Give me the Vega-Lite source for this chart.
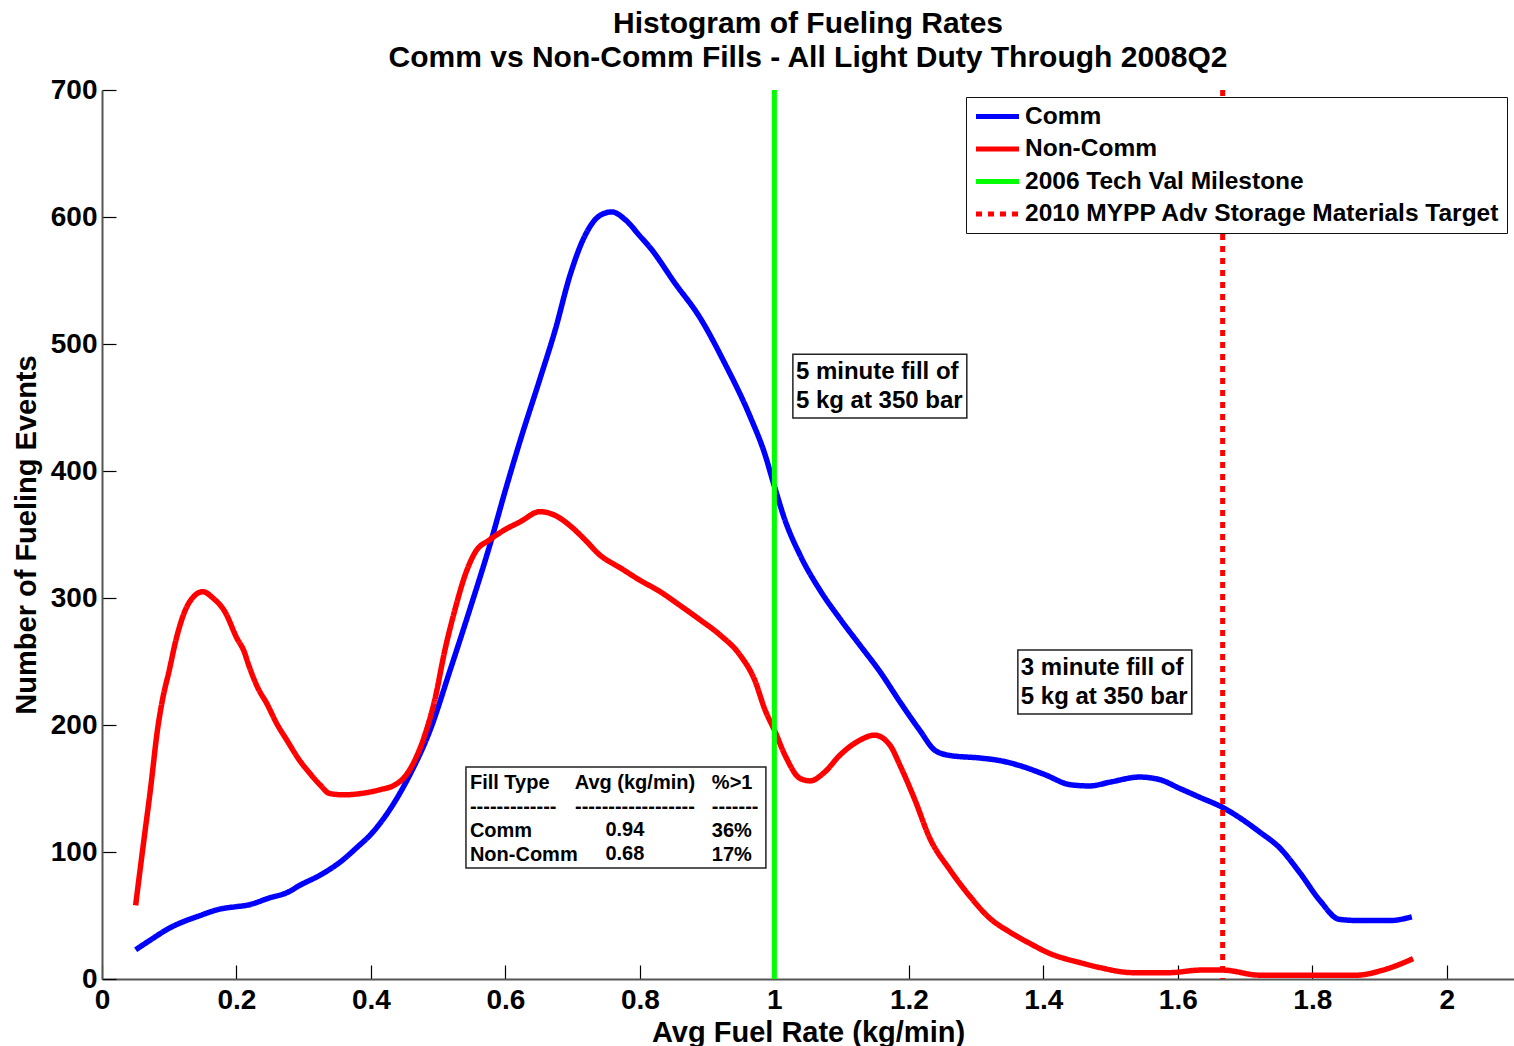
{
  "$schema": "https://vega.github.io/schema/vega-lite/v6.json",
  "width": 1412,
  "height": 889,
  "autosize": "none",
  "padding": {"left": 102, "top": 90, "right": 0, "bottom": 67},
  "background": "white",
  "title": {
    "text": ["Histogram of Fueling Rates", "Comm vs Non-Comm Fills - All Light Duty Through 2008Q2"],
    "font": "Liberation Sans",
    "fontWeight": "bold",
    "fontSize": 30,
    "lineHeight": 34,
    "color": "black",
    "anchor": "middle",
    "offset": 3
  },
  "datasets": {
    "curves": [
      {"series": "Comm", "rate": 0.05, "count": 23},
      {"series": "Comm", "rate": 0.07, "count": 30},
      {"series": "Comm", "rate": 0.1, "count": 40},
      {"series": "Comm", "rate": 0.146, "count": 50},
      {"series": "Comm", "rate": 0.175, "count": 55},
      {"series": "Comm", "rate": 0.2, "count": 57},
      {"series": "Comm", "rate": 0.215, "count": 58},
      {"series": "Comm", "rate": 0.25, "count": 64},
      {"series": "Comm", "rate": 0.275, "count": 68},
      {"series": "Comm", "rate": 0.295, "count": 74},
      {"series": "Comm", "rate": 0.325, "count": 82},
      {"series": "Comm", "rate": 0.354, "count": 92},
      {"series": "Comm", "rate": 0.38, "count": 104},
      {"series": "Comm", "rate": 0.4, "count": 114},
      {"series": "Comm", "rate": 0.43, "count": 135},
      {"series": "Comm", "rate": 0.458, "count": 161},
      {"series": "Comm", "rate": 0.488, "count": 196},
      {"series": "Comm", "rate": 0.517, "count": 242},
      {"series": "Comm", "rate": 0.547, "count": 291},
      {"series": "Comm", "rate": 0.577, "count": 342},
      {"series": "Comm", "rate": 0.6, "count": 385},
      {"series": "Comm", "rate": 0.622, "count": 424},
      {"series": "Comm", "rate": 0.651, "count": 472},
      {"series": "Comm", "rate": 0.674, "count": 511},
      {"series": "Comm", "rate": 0.696, "count": 554},
      {"series": "Comm", "rate": 0.718, "count": 585},
      {"series": "Comm", "rate": 0.74, "count": 601},
      {"series": "Comm", "rate": 0.758, "count": 604},
      {"series": "Comm", "rate": 0.778, "count": 598},
      {"series": "Comm", "rate": 0.8, "count": 585},
      {"series": "Comm", "rate": 0.815, "count": 576},
      {"series": "Comm", "rate": 0.852, "count": 548},
      {"series": "Comm", "rate": 0.889, "count": 521},
      {"series": "Comm", "rate": 0.926, "count": 485},
      {"series": "Comm", "rate": 0.963, "count": 444},
      {"series": "Comm", "rate": 0.986, "count": 413},
      {"series": "Comm", "rate": 1.0, "count": 388},
      {"series": "Comm", "rate": 1.016, "count": 361},
      {"series": "Comm", "rate": 1.038, "count": 334},
      {"series": "Comm", "rate": 1.068, "count": 306},
      {"series": "Comm", "rate": 1.097, "count": 284},
      {"series": "Comm", "rate": 1.127, "count": 263},
      {"series": "Comm", "rate": 1.157, "count": 242},
      {"series": "Comm", "rate": 1.187, "count": 218},
      {"series": "Comm", "rate": 1.216, "count": 196},
      {"series": "Comm", "rate": 1.239, "count": 180},
      {"series": "Comm", "rate": 1.261, "count": 176},
      {"series": "Comm", "rate": 1.306, "count": 174},
      {"series": "Comm", "rate": 1.335, "count": 172},
      {"series": "Comm", "rate": 1.365, "count": 168},
      {"series": "Comm", "rate": 1.402, "count": 161},
      {"series": "Comm", "rate": 1.44, "count": 153},
      {"series": "Comm", "rate": 1.469, "count": 152},
      {"series": "Comm", "rate": 1.499, "count": 155},
      {"series": "Comm", "rate": 1.543, "count": 159},
      {"series": "Comm", "rate": 1.573, "count": 157},
      {"series": "Comm", "rate": 1.603, "count": 150},
      {"series": "Comm", "rate": 1.633, "count": 143},
      {"series": "Comm", "rate": 1.667, "count": 135},
      {"series": "Comm", "rate": 1.692, "count": 127},
      {"series": "Comm", "rate": 1.721, "count": 116},
      {"series": "Comm", "rate": 1.752, "count": 103},
      {"series": "Comm", "rate": 1.781, "count": 84},
      {"series": "Comm", "rate": 1.811, "count": 62},
      {"series": "Comm", "rate": 1.84, "count": 47},
      {"series": "Comm", "rate": 1.87, "count": 46},
      {"series": "Comm", "rate": 1.915, "count": 46},
      {"series": "Comm", "rate": 1.948, "count": 49},
      {"series": "Non-Comm", "rate": 0.05, "count": 58},
      {"series": "Non-Comm", "rate": 0.061, "count": 104},
      {"series": "Non-Comm", "rate": 0.072, "count": 149},
      {"series": "Non-Comm", "rate": 0.083, "count": 198},
      {"series": "Non-Comm", "rate": 0.09, "count": 220},
      {"series": "Non-Comm", "rate": 0.1, "count": 243},
      {"series": "Non-Comm", "rate": 0.11, "count": 267},
      {"series": "Non-Comm", "rate": 0.122, "count": 288},
      {"series": "Non-Comm", "rate": 0.138, "count": 302},
      {"series": "Non-Comm", "rate": 0.15, "count": 305},
      {"series": "Non-Comm", "rate": 0.165, "count": 300},
      {"series": "Non-Comm", "rate": 0.183, "count": 289},
      {"series": "Non-Comm", "rate": 0.2, "count": 269},
      {"series": "Non-Comm", "rate": 0.212, "count": 257},
      {"series": "Non-Comm", "rate": 0.217, "count": 249},
      {"series": "Non-Comm", "rate": 0.232, "count": 229},
      {"series": "Non-Comm", "rate": 0.245, "count": 217},
      {"series": "Non-Comm", "rate": 0.26, "count": 201},
      {"series": "Non-Comm", "rate": 0.275, "count": 188},
      {"series": "Non-Comm", "rate": 0.294, "count": 172},
      {"series": "Non-Comm", "rate": 0.309, "count": 162},
      {"series": "Non-Comm", "rate": 0.324, "count": 153},
      {"series": "Non-Comm", "rate": 0.339, "count": 146},
      {"series": "Non-Comm", "rate": 0.361, "count": 145},
      {"series": "Non-Comm", "rate": 0.384, "count": 146},
      {"series": "Non-Comm", "rate": 0.413, "count": 149},
      {"series": "Non-Comm", "rate": 0.436, "count": 153},
      {"series": "Non-Comm", "rate": 0.45, "count": 159},
      {"series": "Non-Comm", "rate": 0.465, "count": 172},
      {"series": "Non-Comm", "rate": 0.48, "count": 192},
      {"series": "Non-Comm", "rate": 0.495, "count": 220},
      {"series": "Non-Comm", "rate": 0.51, "count": 259},
      {"series": "Non-Comm", "rate": 0.525, "count": 291},
      {"series": "Non-Comm", "rate": 0.54, "count": 318},
      {"series": "Non-Comm", "rate": 0.555, "count": 336},
      {"series": "Non-Comm", "rate": 0.577, "count": 346},
      {"series": "Non-Comm", "rate": 0.6, "count": 354},
      {"series": "Non-Comm", "rate": 0.622, "count": 360},
      {"series": "Non-Comm", "rate": 0.651, "count": 368},
      {"series": "Non-Comm", "rate": 0.674, "count": 365},
      {"series": "Non-Comm", "rate": 0.696, "count": 357},
      {"series": "Non-Comm", "rate": 0.718, "count": 346},
      {"series": "Non-Comm", "rate": 0.74, "count": 334},
      {"series": "Non-Comm", "rate": 0.77, "count": 324},
      {"series": "Non-Comm", "rate": 0.8, "count": 314},
      {"series": "Non-Comm", "rate": 0.83, "count": 305},
      {"series": "Non-Comm", "rate": 0.86, "count": 294},
      {"series": "Non-Comm", "rate": 0.889, "count": 283},
      {"series": "Non-Comm", "rate": 0.919, "count": 271},
      {"series": "Non-Comm", "rate": 0.949, "count": 255},
      {"series": "Non-Comm", "rate": 0.971, "count": 235},
      {"series": "Non-Comm", "rate": 0.986, "count": 212},
      {"series": "Non-Comm", "rate": 1.0, "count": 196},
      {"series": "Non-Comm", "rate": 1.016, "count": 176},
      {"series": "Non-Comm", "rate": 1.038, "count": 158},
      {"series": "Non-Comm", "rate": 1.053, "count": 156},
      {"series": "Non-Comm", "rate": 1.075, "count": 163},
      {"series": "Non-Comm", "rate": 1.097, "count": 176},
      {"series": "Non-Comm", "rate": 1.127, "count": 188},
      {"series": "Non-Comm", "rate": 1.149, "count": 192},
      {"series": "Non-Comm", "rate": 1.172, "count": 184},
      {"series": "Non-Comm", "rate": 1.187, "count": 168},
      {"series": "Non-Comm", "rate": 1.209, "count": 141},
      {"series": "Non-Comm", "rate": 1.231, "count": 111},
      {"series": "Non-Comm", "rate": 1.261, "count": 86},
      {"series": "Non-Comm", "rate": 1.291, "count": 65},
      {"series": "Non-Comm", "rate": 1.32, "count": 48},
      {"series": "Non-Comm", "rate": 1.35, "count": 37},
      {"series": "Non-Comm", "rate": 1.38, "count": 28},
      {"series": "Non-Comm", "rate": 1.41, "count": 20},
      {"series": "Non-Comm", "rate": 1.454, "count": 13},
      {"series": "Non-Comm", "rate": 1.484, "count": 9},
      {"series": "Non-Comm", "rate": 1.533, "count": 5},
      {"series": "Non-Comm", "rate": 1.588, "count": 5},
      {"series": "Non-Comm", "rate": 1.633, "count": 7},
      {"series": "Non-Comm", "rate": 1.667, "count": 7},
      {"series": "Non-Comm", "rate": 1.722, "count": 3},
      {"series": "Non-Comm", "rate": 1.78, "count": 3},
      {"series": "Non-Comm", "rate": 1.866, "count": 3},
      {"series": "Non-Comm", "rate": 1.905, "count": 7},
      {"series": "Non-Comm", "rate": 1.95, "count": 16}
    ],
    "targets": [
      {"series": "2006 Tech Val Milestone", "rate": 1.0},
      {"series": "2010 MYPP Adv Storage Materials Target", "rate": 1.6667}
    ],
    "one": [{}]
  },
  "layer": [
    {
      "data": {"name": "curves"},
      "mark": {"type": "line", "strokeWidth": 5.5, "interpolate": "monotone", "strokeCap": "butt"},
      "encoding": {
        "x": {"field": "rate", "type": "quantitative"},
        "y": {"field": "count", "type": "quantitative"},
        "color": {"field": "series", "type": "nominal"},
        "strokeDash": {"field": "series", "type": "nominal"}
      }
    },
    {
      "data": {"name": "targets"},
      "mark": {"type": "rule", "strokeWidth": 5},
      "encoding": {
        "x": {"field": "rate", "type": "quantitative"},
        "color": {"field": "series", "type": "nominal"},
        "strokeDash": {"field": "series", "type": "nominal"}
      }
    },
    {
      "data": {"name": "one"},
      "mark": {"type": "rect", "fill": "white", "stroke": "#222222", "strokeWidth": 1.5},
      "encoding": {
        "x": {"datum": 1.0275},
        "x2": {"datum": 1.2862},
        "y": {"datum": 492},
        "y2": {"datum": 441.7}
      }
    },
    {
      "data": {"name": "one"},
      "mark": {"type": "text", "text": ["5 minute fill of", "5 kg at 350 bar"], "align": "left", "baseline": "middle", "font": "Liberation Sans", "fontWeight": "bold", "fontSize": 24, "lineHeight": 29, "color": "black"},
      "encoding": {"x": {"datum": 1.032}, "y": {"datum": 478}}
    },
    {
      "data": {"name": "one"},
      "mark": {"type": "rect", "fill": "white", "stroke": "#222222", "strokeWidth": 1.5},
      "encoding": {
        "x": {"datum": 1.3621},
        "x2": {"datum": 1.6208},
        "y": {"datum": 259},
        "y2": {"datum": 208.7}
      }
    },
    {
      "data": {"name": "one"},
      "mark": {"type": "text", "text": ["3 minute fill of", "5 kg at 350 bar"], "align": "left", "baseline": "middle", "font": "Liberation Sans", "fontWeight": "bold", "fontSize": 24, "lineHeight": 29, "color": "black"},
      "encoding": {"x": {"datum": 1.3665}, "y": {"datum": 244.9}}
    },
    {
      "data": {"name": "one"},
      "mark": {"type": "rect", "fill": "white", "stroke": "#222222", "strokeWidth": 1.5},
      "encoding": {
        "x": {"datum": 0.5413},
        "x2": {"datum": 0.9874},
        "y": {"datum": 166.9},
        "y2": {"datum": 87.4}
      }
    },
    {
      "data": {"name": "one"},
      "mark": {"type": "text", "text": ["Fill Type", "-------------", "Comm", "Non-Comm"], "align": "left", "baseline": "middle", "font": "Liberation Sans", "fontWeight": "bold", "fontSize": 20, "lineHeight": 24, "color": "black"},
      "encoding": {"x": {"datum": 0.5472}, "y": {"datum": 154.3}}
    },
    {
      "data": {"name": "one"},
      "mark": {"type": "text", "text": ["Avg (kg/min)", "------------------"], "align": "center", "baseline": "middle", "font": "Liberation Sans", "fontWeight": "bold", "fontSize": 20, "lineHeight": 24, "color": "black"},
      "encoding": {"x": {"datum": 0.7926}, "y": {"datum": 154.3}}
    },
    {
      "data": {"name": "one"},
      "mark": {"type": "text", "text": ["0.94", "0.68"], "align": "left", "baseline": "middle", "font": "Liberation Sans", "fontWeight": "bold", "fontSize": 20, "lineHeight": 24, "color": "black"},
      "encoding": {"x": {"datum": 0.7487}, "y": {"datum": 117.3}}
    },
    {
      "data": {"name": "one"},
      "mark": {"type": "text", "text": ["%>1", "-------", "36%", "17%"], "align": "left", "baseline": "middle", "font": "Liberation Sans", "fontWeight": "bold", "fontSize": 20, "lineHeight": 24, "color": "black"},
      "encoding": {"x": {"datum": 0.907}, "y": {"datum": 154.3}}
    }
  ],
  "resolve": {"scale": {"color": "shared", "strokeDash": "shared"}},
  "encoding": {
    "x": {
      "type": "quantitative",
      "scale": {"domain": [0, 2.1], "nice": false, "zero": false},
      "axis": {
        "title": "Avg Fuel Rate (kg/min)",
        "values": [0, 0.2, 0.4, 0.6, 0.8, 1, 1.2, 1.4, 1.6, 1.8, 2],
        "format": "~g",
        "tickSize": -14,
        "labelPadding": 21,
        "labelFlush": false,
        "titleBaseline": "alphabetic",
        "titleY": 62,
        "titleX": 706
      }
    },
    "y": {
      "type": "quantitative",
      "scale": {"domain": [0, 700], "nice": false},
      "axis": {
        "title": "Number of Fueling Events",
        "values": [0, 100, 200, 300, 400, 500, 600, 700],
        "tickSize": -14,
        "labelPadding": 19,
        "labelFlush": false,
        "titleBaseline": "alphabetic",
        "titleX": -67
      }
    },
    "color": {
      "type": "nominal",
      "scale": {
        "domain": ["Comm", "Non-Comm", "2006 Tech Val Milestone", "2010 MYPP Adv Storage Materials Target"],
        "range": ["#0000ff", "#ff0000", "#00ff00", "#ff0000"]
      },
      "legend": {"title": null}
    },
    "strokeDash": {
      "type": "nominal",
      "scale": {
        "domain": ["Comm", "Non-Comm", "2006 Tech Val Milestone", "2010 MYPP Adv Storage Materials Target"],
        "range": [[1, 0], [1, 0], [1, 0], [6, 6]]
      },
      "legend": {"title": null}
    }
  },
  "config": {
    "view": {"stroke": null},
    "axis": {
      "grid": false,
      "domainColor": "#555555",
      "domainWidth": 2,
      "tickColor": "black",
      "tickWidth": 1.2,
      "labelFont": "Liberation Sans",
      "labelFontWeight": "bold",
      "labelFontSize": 28,
      "labelColor": "black",
      "titleFont": "Liberation Sans",
      "titleFontWeight": "bold",
      "titleFontSize": 29,
      "titleColor": "black"
    },
    "legend": {
      "orient": "none",
      "legendX": 864,
      "legendY": 7,
      "padding": 7,
      "rowPadding": 7.5,
      "strokeColor": "#111111",
      "fillColor": "white",
      "symbolType": "M-2.15,0H2.15",
      "symbolSize": 400,
      "symbolStrokeWidth": 5,
      "symbolOffset": 12,
      "labelOffset": 15,
      "labelFont": "Liberation Sans",
      "labelFontWeight": "bold",
      "labelFontSize": 24.5,
      "labelColor": "black",
      "labelLimit": 600
    }
  }
}
